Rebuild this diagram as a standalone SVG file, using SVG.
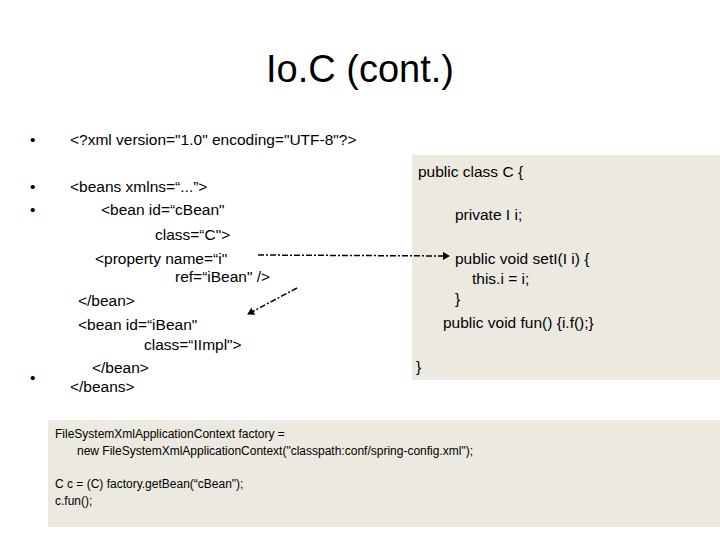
<svg xmlns="http://www.w3.org/2000/svg" width="720" height="540" viewBox="0 0 720 540">
<defs>
<style>
text{font-family:"Liberation Sans",Arial,sans-serif;fill:#000}
.t{font-size:15.5px}
.s{font-size:12px}
.box{fill:#ece9e0}
.c{stroke:#000;stroke-width:1.5;stroke-dasharray:6,2,2,2;fill:none}
</style>
<marker id="ah" markerWidth="8" markerHeight="8" refX="6" refY="4" orient="auto" markerUnits="userSpaceOnUse"><path d="M0,0 L7,4 L0,8 z" fill="#000"/></marker>
</defs>
<rect width="720" height="540" fill="#fff"/>
<text x="360" y="82" font-size="38" text-anchor="middle">Io.C (cont.)</text>
<g id="xml">
<text class="t" x="30" y="145">•</text>
<text class="t" x="70" y="145">&lt;?xml version="1.0" encoding="UTF-8"?&gt;</text>
<text class="t" x="30" y="192">•</text>
<text class="t" x="30" y="215">•</text>
<text class="t" x="30" y="383">•</text>
<text class="t" x="70" y="192">&lt;beans xmlns=“...”&gt;</text>
<text class="t" x="101" y="215">&lt;bean id=“cBean"</text>
<text class="t" x="155" y="240">class=“C"&gt;</text>
<text class="t" x="95" y="264">&lt;property name=“i"</text>
<text class="t" x="175" y="282">ref=“iBean" /&gt;</text>
<text class="t" x="78" y="306">&lt;/bean&gt;</text>
<text class="t" x="78" y="330">&lt;bean id=“iBean"</text>
<text class="t" x="144" y="350">class=“IImpl"&gt;</text>
<text class="t" x="92" y="373">&lt;/bean&gt;</text>
<text class="t" x="70" y="392">&lt;/beans&gt;</text>
</g>
<g id="classC">
<rect class="box" x="412" y="155" width="308" height="225"/>
<text class="t" x="418" y="177">public class C {</text>
<text class="t" x="455" y="220">private I i;</text>
<text class="t" x="455" y="264">public void setI(I i) {</text>
<text class="t" x="472" y="284">this.i = i;</text>
<text class="t" x="455" y="304">}</text>
<text class="t" x="443" y="328">public void fun() {i.f();}</text>
<text class="t" x="416" y="372">}</text>
</g>
<g id="main">
<rect class="box" x="48" y="420" width="672" height="107"/>
<text class="s" x="55" y="438">FileSystemXmlApplicationContext factory =</text>
<text class="s" x="77" y="455">new  FileSystemXmlApplicationContext("classpath:conf/spring-config.xml");</text>
<text class="s" x="55" y="488">C c = (C) factory.getBean(“cBean");</text>
<text class="s" x="55" y="505">c.fun();</text>
</g>
<g id="connectors">
<path class="c" d="M258,255 L449,256" marker-end="url(#ah)"/>
<path class="c" d="M297,288 L248,314" marker-end="url(#ah)"/>
</g>
</svg>
